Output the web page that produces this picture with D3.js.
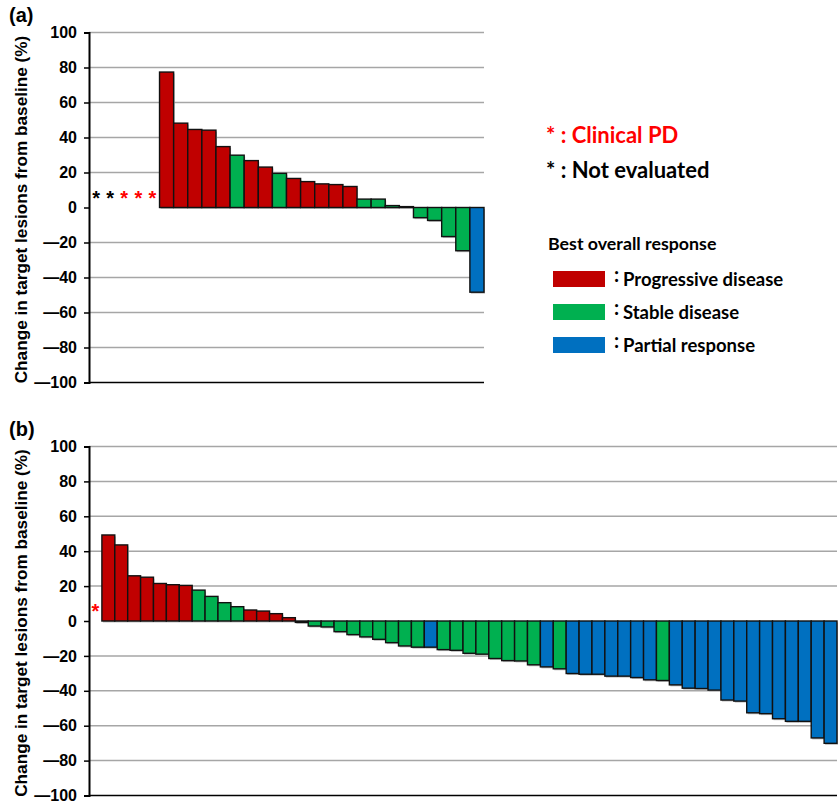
<!DOCTYPE html>
<html>
<head>
<meta charset="utf-8">
<script src="https://cdn.jsdelivr.net/npm/d3@7"></script>
<style>
  body { margin: 0; background: #fff; }
  svg { display: block; }
  .legend { font-family: Lato, "Open Sans", sans-serif; font-weight: bold; }
</style>
</head>
<body>
<div id="chart"></div>
<script>
//panel (a) - 5 empty slots (asterisks) then bars
const aMarks = ["nev", "nev", "cpd", "cpd", "cpd"];
const aValues = [
  77.4, 48.2, 44.6, 44.2, 34.8, 29.9, 26.8, 23.1, 19.5, 16.6, 14.8, 13.5,
  13.1, 12.0, 4.8, 4.8, 1.1, 0.5, -5.8, -7.4, -16.6, -24.7, -48.4,
];
const aResponse = [
  "PD", "PD", "PD", "PD", "PD", "SD", "PD", "PD", "SD", "PD", "PD", "PD",
  "PD", "PD", "SD", "SD", "SD", "SD", "SD", "SD", "SD", "SD", "PR",
];

//panel (b) - 1 empty slot then bars
const bMarks = ["cpd"];
const bValues = [
  49.3, 43.6, 25.9, 25.1, 21.5, 20.8, 20.4, 17.7, 14.1, 10.5, 8.2, 6.3, 5.7,
  4.2, 1.9, -0.8, -2.9, -3.4, -6.1, -7.8, -9.1, -10.5, -12.4, -14.3, -15.0,
  -15.0, -16.4, -16.8, -18.5, -19.0, -21.5, -22.7, -22.9, -25.1, -26.3, -27.4,
  -30.1, -30.5, -30.5, -31.6, -31.6, -32.4, -33.7, -34.1, -36.6, -38.5, -38.7,
  -39.6, -45.3, -45.9, -52.6, -53.1, -56.0, -57.5, -57.5, -67.0, -70.1,
];
const bResponse = [
  "PD", "PD", "PD", "PD", "PD", "PD", "PD", "SD", "SD", "SD", "SD", "PD", "PD",
  "PD", "PD", "SD", "SD", "SD", "SD", "SD", "SD", "SD", "SD", "SD", "SD",
  "PR", "SD", "SD", "SD", "SD", "SD", "SD", "SD", "SD", "PR", "SD",
  "PR", "PR", "PR", "PR", "PR", "PR", "PR", "SD", "PR", "PR", "PR",
  "PR", "PR", "PR", "PR", "PR", "PR", "PR", "PR", "PR", "PR",
];

const yTicks = [100, 80, 60, 40, 20, 0, -20, -40, -60, -80, -100];

const legendItems = ["Progressive disease", "Stable disease", "Partial response"];
const responseKeys = ["PD", "SD", "PR"];
const colors = { PD: "#C00000", SD: "#00B050", PR: "#0070C0" };
const markColors = { cpd: "#FF0000", nev: "#000000" };

const width = 840;
const height = 804;
const arial = "Liberation Sans, Arial, sans-serif";

const svg = d3
  .select("#chart")
  .append("svg")
  .attr("width", width)
  .attr("height", height);

const createPanel = (label, marks, values, response, box) => {
  const slots = d3.range(marks.length + values.length);

  const x = d3.scaleBand().domain(slots).range([box.left, box.right]).padding(0);
  const y = d3.scaleLinear().domain([-100, 100]).range([box.bottom, box.top]);

  const g = svg.append("g");

  //grid lines (not at 0 and -100)
  g.selectAll("grid")
    .data(yTicks.filter((d) => d !== 0 && d !== -100))
    .enter()
    .append("line")
    .attr("x1", box.left)
    .attr("x2", box.right)
    .attr("y1", (d) => y(d))
    .attr("y2", (d) => y(d))
    .attr("stroke", "#a6a6a6")
    .attr("stroke-width", 1.5);

  //bars
  const bars = values.map((v, i) => ({
    slot: i + marks.length,
    value: v,
    resp: response[i],
  }));

  //light shadow under bars
  g.selectAll("shadow")
    .data(bars)
    .enter()
    .append("rect")
    .attr("x", (d) => x(d.slot) + 1)
    .attr("y", (d) => Math.min(y(d.value), y(0)) + 1.5)
    .attr("width", x.bandwidth())
    .attr("height", (d) => Math.max(Math.abs(y(d.value) - y(0)), 0.5))
    .attr("fill", "#bfbfbf");

  g.selectAll("bar")
    .data(bars)
    .enter()
    .append("rect")
    .attr("x", (d) => x(d.slot))
    .attr("y", (d) => Math.min(y(d.value), y(0)))
    .attr("width", x.bandwidth())
    .attr("height", (d) => Math.abs(y(d.value) - y(0)))
    .attr("fill", (d) => colors[d.resp])
    .attr("stroke", "#111")
    .attr("stroke-width", 1.4);

  //asterisks in the empty slots
  g.selectAll("mark")
    .data(marks)
    .enter()
    .append("text")
    .attr("x", (d, i) => x(i) + x.bandwidth() / 2)
    .attr("y", y(0) - 3)
    .attr("text-anchor", "middle")
    .attr("font-family", arial)
    .attr("font-weight", "bold")
    .attr("font-size", 20)
    .attr("fill", (d) => markColors[d])
    .text("*");

  //y axis
  const axis = g
    .append("g")
    .attr("transform", `translate(${box.left},0)`)
    .call(
      d3
        .axisLeft(y)
        .tickValues(yTicks)
        .tickSize(5)
        .tickPadding(7)
        .tickFormat((d) => (d < 0 ? "\u2014" + Math.abs(d) : d))
    );
  axis.select(".domain").attr("stroke", "#000").attr("stroke-width", 2);
  axis.selectAll(".tick line").attr("stroke", "#000").attr("stroke-width", 1.5);
  axis
    .selectAll(".tick text")
    .attr("fill", "#000")
    .style("font-family", arial)
    .style("font-weight", "bold")
    .style("font-size", "16px");

  //bottom category axis line
  g.append("line")
    .attr("x1", box.left)
    .attr("x2", box.right)
    .attr("y1", y(-100))
    .attr("y2", y(-100))
    .attr("stroke", "#000")
    .attr("stroke-width", 1.5);

  //axis title
  g.append("text")
    .attr("transform", `translate(27,${(box.top + box.bottom) / 2 + 2}) rotate(-90)`)
    .attr("text-anchor", "middle")
    .attr("font-family", arial)
    .attr("font-weight", "bold")
    .attr("font-size", 17.2)
    .text("Change in target lesions from baseline (%)");

  //panel label
  g.append("text")
    .attr("x", 9)
    .attr("y", box.top - 11)
    .attr("font-family", arial)
    .attr("font-weight", "bold")
    .attr("font-size", 20)
    .text(label);
};

createPanel("(a)", aMarks, aValues, aResponse, { left: 89, right: 484, top: 32.5, bottom: 382.5 });
createPanel("(b)", bMarks, bValues, bResponse, { left: 89, right: 837, top: 446.5, bottom: 795.5 });

//legend
const legend = svg.append("g").attr("class", "legend");

legend
  .append("text")
  .attr("x", 546)
  .attr("y", 143)
  .attr("font-size", 22)
  .attr("fill", "#FF0000")
  .text("* : Clinical PD");

legend
  .append("text")
  .attr("x", 546)
  .attr("y", 178)
  .attr("font-size", 22)
  .attr("fill", "#000")
  .text("* : Not evaluated");

legend
  .append("text")
  .attr("x", 548)
  .attr("y", 250)
  .attr("font-size", 17.8)
  .attr("fill", "#000")
  .text("Best overall response");

legend
  .selectAll("mydots")
  .data(responseKeys)
  .enter()
  .append("rect")
  .attr("x", 553)
  .attr("y", (d, i) => 271 + i * 33)
  .attr("width", 52)
  .attr("height", 16)
  .attr("fill", (d) => colors[d]);

//raised colon before each label
legend
  .selectAll("mycolons")
  .data(legendItems)
  .enter()
  .append("text")
  .attr("x", 614)
  .attr("y", (d, i) => 282 + i * 33)
  .attr("font-size", 20)
  .attr("fill", "#000")
  .text(":");

legend
  .selectAll("mylabels")
  .data(legendItems)
  .enter()
  .append("text")
  .attr("x", 623)
  .attr("y", (d, i) => 286 + i * 33)
  .attr("font-size", 18.5)
  .attr("fill", "#000")
  .text((d) => d);
</script>
</body>
</html>
